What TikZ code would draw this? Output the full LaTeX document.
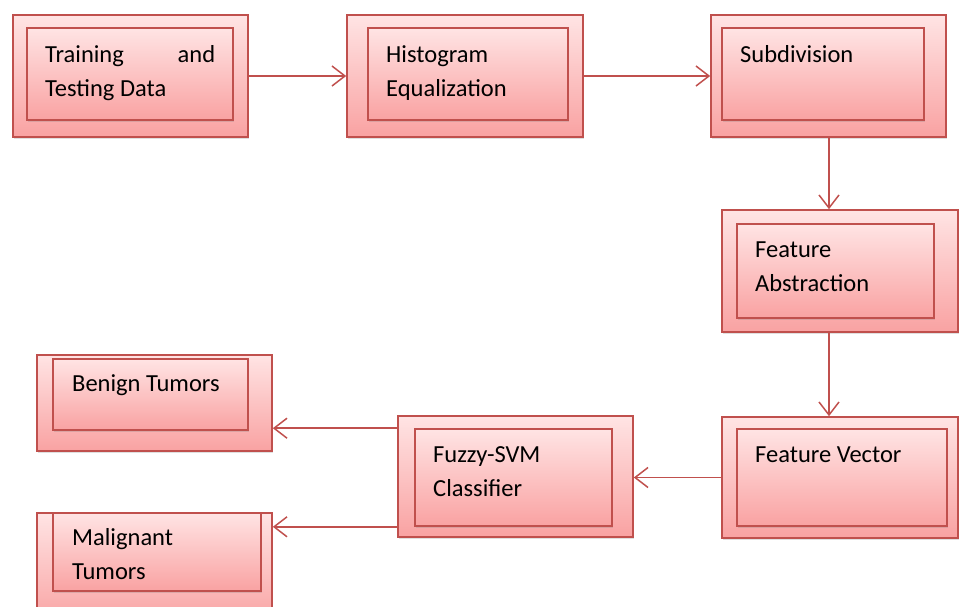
\documentclass[tikz,border=0pt]{standalone}
\usepackage{fontspec}
\setmainfont{Carlito}
\usetikzlibrary{arrows.meta,shadows,fit}
\definecolor{bord}{RGB}{192,80,77}
\definecolor{pktop}{RGB}{255,228,228}
\definecolor{pkbot}{RGB}{249,162,162}
\tikzset{
  boxbase/.style={draw=bord, line width=1.6pt, inner sep=0pt, top color=pktop, bottom color=pkbot,
    drop shadow={opacity=0.25, shadow xshift=1.2pt, shadow yshift=-2.4pt}},
  outerbox/.style={boxbase},
  innerbox/.style={boxbase},
  txt/.style={anchor=north west, inner sep=0pt, align=left, font=\fontsize{24.5}{34}\selectfont, text=black},
  conn/.style={draw=bord, line width=1.6pt, -{Straight Barb[length=13pt,width=20pt,line width=1.5pt]}}
}
\begin{document}
\begin{tikzpicture}[x=1pt,y=-1pt]
\useasboundingbox (0,0) rectangle (959,606);
\clip (0,0) rectangle (959,606);
% outer boxes
\node[outerbox, fit={(13,15)(248,137)}] (o1) {};
\node[outerbox, fit={(347,15)(583,137)}] (o2) {};
\node[outerbox, fit={(711,15)(946,137)}] (o3) {};
\node[outerbox, fit={(722,210)(958,332)}] (o4) {};
\node[outerbox, fit={(722,417)(958,538)}] (o5) {};
\node[outerbox, fit={(398,416)(633,537)}] (o6) {};
\node[outerbox, fit={(37,355)(272,451)}] (o7) {};
\node[outerbox, fit={(37,513)(272,625)}] (o8) {};
% inner boxes
\node[innerbox, fit={(27,28)(233,120)}] (i1) {};
\node[innerbox, fit={(368,28)(568,120)}] (i2) {};
\node[innerbox, fit={(722,28)(924,120)}] (i3) {};
\node[innerbox, fit={(737,224)(934,318)}] (i4) {};
\node[innerbox, fit={(737,429)(947,526)}] (i5) {};
\node[innerbox, fit={(415,429)(612,526)}] (i6) {};
\node[innerbox, fit={(53,359)(248,430)}] (i7) {};
\node[innerbox, fit={(53,513)(261,591)}] (i8) {};
% texts (baseline - 23.8)
\node[txt] (t1) at (45,38.2) {\strut\makebox[170pt][s]{Training and}\\Testing Data};
\node[txt] (t2) at (386,38.2) {\strut Histogram\\Equalization};
\node[txt] (t3) at (740,38.2) {\strut Subdivision};
\node[txt] (t4) at (755,233.2) {\strut Feature\\Abstraction};
\node[txt] (t5) at (755,438.2) {\strut Feature Vector};
\node[txt] (t6) at (433,438.2) {\strut Fuzzy-SVM\\Classifier};
\node[txt] (t7) at (72,367.2) {\strut Benign Tumors};
\node[txt] (t8) at (72,521.2) {\strut Malignant\\Tumors};
% connectors
\coordinate (cx) at (829,0);
\draw[conn] (o1.east) -- (o2.west);
\draw[conn] (o2.east) -- (o3.west);
\draw[conn] (cx |- o3.south) -- (cx |- o4.north);
\draw[conn] (cx |- o4.south) -- (cx |- o5.north);
\draw[conn] (o5.west) -- (o5.west -| o6.east);
\draw[conn] (i6.north -| o6.west) -- (i6.north -| o7.east);
\draw[conn] (i6.south -| o6.west) -- (i6.south -| o8.east);
\end{tikzpicture}
\end{document}
